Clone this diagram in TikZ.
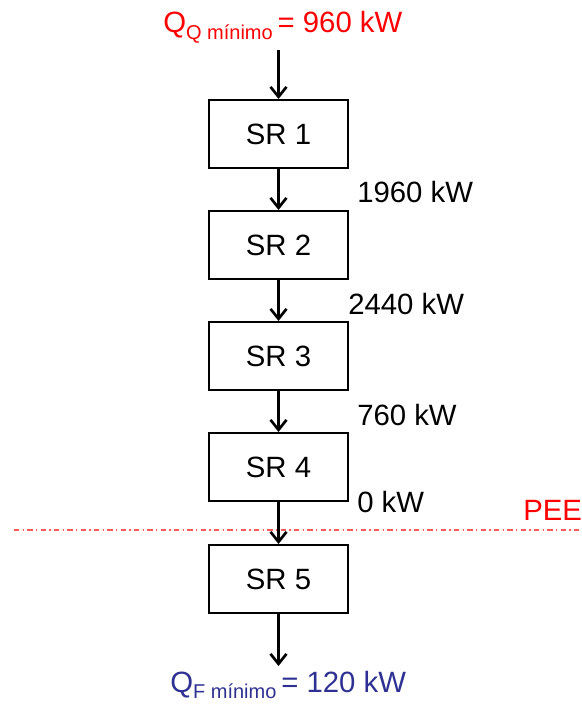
\documentclass[tikz,border=0pt]{standalone}
\usepackage{fontspec}
\setmainfont{Liberation Sans}
\usetikzlibrary{arrows.meta}
\definecolor{qred}{RGB}{255,0,0}
\definecolor{peered}{RGB}{255,90,90}
\definecolor{qblue}{RGB}{46,49,146}
\newcommand\bigfont{\fontsize{22pt}{26pt}\selectfont}
\newcommand\subfont{\fontsize{15pt}{18pt}\selectfont}
\begin{document}
\begin{tikzpicture}[x=0.75pt,y=-0.75pt,
  srbox/.style={draw,line width=1.5pt,minimum width=104.25pt,minimum height=51pt,inner sep=0pt,font=\bigfont},
  flow/.style={line width=2pt,-{Straight Barb[length=7.5pt,width=12pt,line width=2pt]}},
  lbl/.style={anchor=base west,inner sep=0pt,font=\bigfont}]
\useasboundingbox (0,0) rectangle (581,709);
\node[srbox] (sr1) at (278.5,134) {SR 1};
\node[srbox] (sr2) at (278.5,245) {SR 2};
\node[srbox] (sr3) at (278.5,356) {SR 3};
\node[srbox] (sr4) at (278.5,467) {SR 4};
\node[srbox] (sr5) at (278.5,579) {SR 5};
\coordinate (top) at (278.5,50);
\coordinate (bot) at (278.5,666);
\coordinate (peel) at (14,530);
\coordinate (peer) at (581,530);
\draw[line width=0.9pt,peered,dash pattern=on 4pt off 2.5pt on 1pt off 2.5pt] (peel) -- (peer);
\draw[flow] (top) -- (sr1.north);
\draw[flow] (sr1.south) -- (sr2.north);
\draw[flow] (sr2.south) -- (sr3.north);
\draw[flow] (sr3.south) -- (sr4.north);
\draw[flow] (sr4.south) -- (sr5.north);
\draw[flow] (sr5.south) -- (bot);
\node[lbl,text=qred] (qq) at (163,33) {Q\raisebox{-5pt}{\subfont Q mínimo}\,= 960 kW};
\node[lbl,text=qblue] (qf) at (170,692) {Q\raisebox{-5pt}{\subfont F mínimo}\,= 120 kW};
\node[lbl] (l1) at (357,203) {1960 kW};
\node[lbl] (l2) at (348,314) {2440 kW};
\node[lbl] (l3) at (357,425) {760 kW};
\node[lbl] (l4) at (357,512) {0 kW};
\node[lbl,text=qred] (pee) at (523,520) {PEE};
\end{tikzpicture}
\end{document}
